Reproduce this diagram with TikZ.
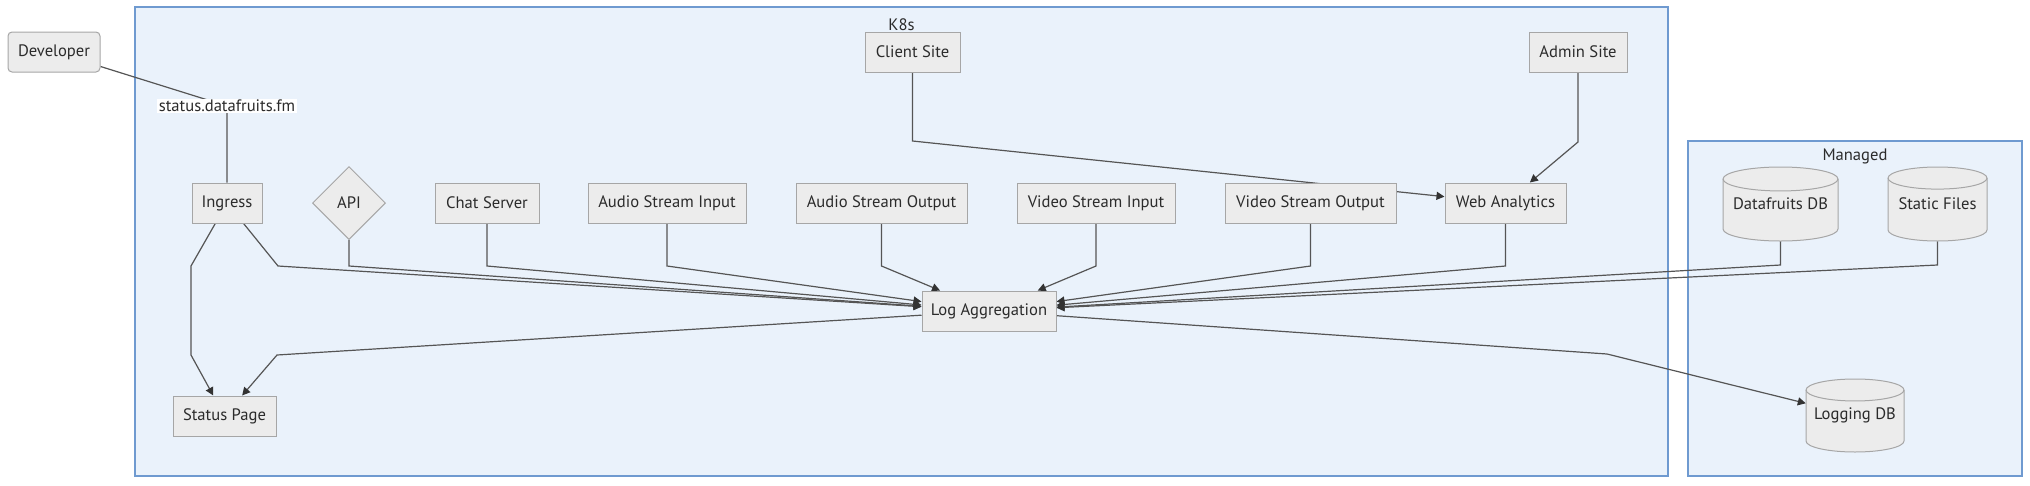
\documentclass[tikz,border=0pt]{standalone}
\usepackage{fontspec}
\setmainfont{PT Sans}
\usetikzlibrary{shapes.geometric,arrows.meta}
\definecolor{clfill}{HTML}{EAF2FB}
\definecolor{cldraw}{HTML}{6F9AD0}
\definecolor{nfill}{HTML}{ECECEC}
\definecolor{ndraw}{HTML}{A6A6A6}
\definecolor{edgec}{HTML}{555555}
\definecolor{tipc}{HTML}{333333}
\definecolor{txt}{HTML}{2B2B2B}
\pgfdeclarelayer{clusters}
\pgfdeclarelayer{edges}
\pgfsetlayers{clusters,edges,main}
\newcommand\bx[5]{\node[box, minimum width=#4pt] (#1) at (#2,#3) {#5};}
\newcommand\dbcyl[6]{%
  \pgfmathsetmacro\cylrx{#4/2}%
  \pgfmathsetmacro\cylry{\cylrx/(2.5+#4/50)}%
  \pgfmathsetmacro\cyltop{#3-#5/2}%
  \pgfmathsetmacro\cylbot{#3+#5/2}%
  \draw[cylline] (#2-\cylrx,\cyltop+\cylry) -- (#2-\cylrx,\cylbot-\cylry)
    arc[start angle=180,end angle=360,x radius=\cylrx pt,y radius=\cylry pt]
    -- (#2+\cylrx,\cyltop+\cylry)
    arc[start angle=0,end angle=180,x radius=\cylrx pt,y radius=\cylry pt] -- cycle;
  \draw[cylline,fill=none] (#2-\cylrx,\cyltop+\cylry)
    arc[start angle=180,end angle=360,x radius=\cylrx pt,y radius=\cylry pt];
  \node[inner sep=0pt, minimum width=#4pt, minimum height=#5pt] (#1) at (#2,#3) {#6};
}
\begin{document}
\begin{tikzpicture}[x=1pt,y=-1pt,
  every node/.style={font=\fontsize{16.6}{19}\selectfont, text=txt},
  box/.style={draw=ndraw, fill=nfill, line width=1pt, minimum height=40pt, inner sep=0pt},
  cylline/.style={draw=ndraw, fill=nfill, line width=1pt},
  cluster/.style={draw=cldraw, fill=clfill, line width=1.2pt, inner sep=0pt},
  edge/.style={draw=edgec, line width=1.2pt},
  arr/.style={edge, -{Triangle[length=8pt,width=8pt,color=tipc]}},
  elabel/.style={fill=white, inner sep=1.5pt}
]
\useasboundingbox (0,0) rectangle (2030,485);

% clusters
\begin{pgfonlayer}{clusters}
\node[cluster, minimum width=1533pt, minimum height=469pt] (k8s) at (901.5,241.5) {};
\node[cluster, minimum width=334pt, minimum height=335pt] (managed) at (1855,308.5) {};
\node (k8slabel) at (901.5,25) {K8s};
\node (managedlabel) at (1855,156) {Managed};
\end{pgfonlayer}

% nodes
\node[box, rounded corners=4pt, minimum width=92pt] (dev) at (54,52) {Developer};
\bx{client}{912.5}{52}{95}{Client Site}
\bx{admin}{1578}{52}{98}{Admin Site}
\bx{ing}{227}{203}{70}{Ingress}
\node[diamond, draw=ndraw, fill=nfill, line width=1pt, minimum width=73pt, minimum height=73pt, inner sep=0pt] (api) at (349,203) {API};
\bx{chat}{487}{203}{104}{Chat Server}
\bx{asi}{667}{203}{158}{Audio Stream Input}
\bx{aso}{881.5}{203}{171}{Audio Stream Output}
\bx{vsi}{1096}{203}{158}{Video Stream Input}
\bx{vso}{1310.5}{203}{171}{Video Stream Output}
\bx{web}{1505.5}{203}{121}{Web Analytics}
\bx{log}{989}{311}{134}{Log Aggregation}
\bx{status}{224.5}{416}{103}{Status Page}
\dbcyl{dfdb}{1780.5}{204}{115}{74}{Datafruits DB}
\dbcyl{static}{1937.5}{204}{99}{74}{Static Files}
\dbcyl{ldb}{1855}{415.5}{98}{73}{Logging DB}

% bend points
\coordinate (b0) at (227,106);
\coordinate (b1) at (191,266);
\coordinate (b2) at (191,355);
\coordinate (b3) at (278,266);
\coordinate (b4) at (349,266);
\coordinate (b5) at (487,266);
\coordinate (b6) at (667,266);
\coordinate (b7) at (881.5,266);
\coordinate (b8) at (1096,266);
\coordinate (b9) at (1310.5,266);
\coordinate (b10) at (1505.5,266);
\coordinate (b11) at (1780.5,265);
\coordinate (b12) at (1937.5,265);
\coordinate (b13) at (912.5,141);
\coordinate (b14) at (1578,142);
\coordinate (b15) at (277,355);
\coordinate (b16) at (1607,354);

\begin{pgfonlayer}{edges}
\draw[edge] (dev) -- (b0) -- (ing);
\draw[arr] (ing) -- (b1) -- (b2) -- (status);
\draw[arr] (ing) -- (b3) -- (log);
\draw[arr] (api) -- (b4) -- (log);
\draw[arr] (chat) -- (b5) -- (log);
\draw[arr] (asi) -- (b6) -- (log);
\draw[arr] (aso) -- (b7) -- (log);
\draw[arr] (vsi) -- (b8) -- (log);
\draw[arr] (vso) -- (b9) -- (log);
\draw[arr] (web) -- (b10) -- (log);
\draw[arr] (dfdb) -- (b11) -- (log);
\draw[arr] (static) -- (b12) -- (log);
\draw[arr] (client) -- (b13) -- (web);
\draw[arr] (admin) -- (b14) -- (web);
\draw[arr] (log) -- (b15) -- (status);
\draw[arr] (log) -- (b16) -- (ldb);
\end{pgfonlayer}

% edge label
\node[elabel] (devlabel) at (b0) {status.datafruits.fm};
\end{tikzpicture}
\end{document}
